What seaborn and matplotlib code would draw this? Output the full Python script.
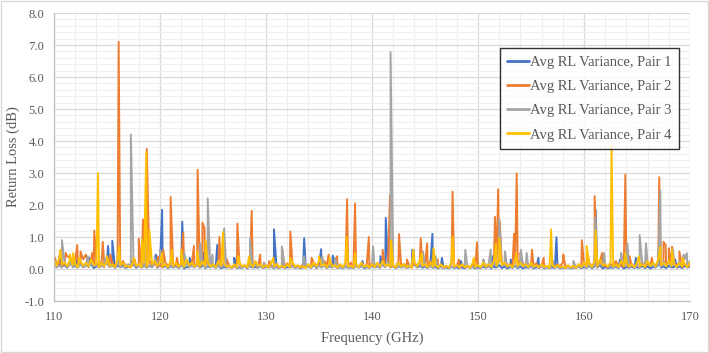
import numpy as np
import pandas as pd
import matplotlib
matplotlib.use("Agg")
import matplotlib.pyplot as plt
from matplotlib.patches import Rectangle
from matplotlib.ticker import MultipleLocator, FormatStrFormatter
import seaborn as sns

# ---------------- data ----------------
series_names = ["Avg RL Variance, Pair 1", "Avg RL Variance, Pair 2",
                "Avg RL Variance, Pair 3", "Avg RL Variance, Pair 4"]
series_colors = ["#4472C4", "#ED7D31", "#A5A5A5", "#FFC000"]

# baseline samples every 0.5 GHz from 110 to 170 ...
base_freq = [110 + 0.5 * i for i in range(121)]
# ... and the samples in between (110.25, 110.75, ... 169.75)
mid_freq = [110.25 + 0.5 * i for i in range(120)]

base_p1 = [0.20, 0.15, 0.12, 0.22, 0.10, 0.18, 0.12, 0.15, 0.08, 0.20,
           0.25, 0.18, 0.10, 0.12, 0.08, 0.15, 0.10, 0.12, 0.10, 0.20,
           0.15, 0.10, 0.08, 0.12, 0.10, 0.06, 0.12, 0.15, 0.10, 0.08,
           0.12, 0.10, 0.06, 0.08, 0.12, 0.05, 0.10, 0.08, 0.06, 0.10,
           0.08, 0.12, 0.05, 0.08, 0.06, 0.10, 0.08, 0.05, 0.10, 0.12,
           0.10, 0.15, 0.08, 0.10, 0.06, 0.08, 0.05, 0.10, 0.08, 0.06,
           0.10, 0.08, 0.12, 0.15, 0.10, 0.08, 0.12, 0.06, 0.15, 0.10,
           0.08, 0.12, 0.06, 0.10, 0.05, 0.08, 0.06, 0.04, 0.08, 0.06,
           0.05, 0.08, 0.10, 0.06, 0.12, 0.08, 0.05, 0.10, 0.08, 0.06,
           0.08, 0.05, 0.10, 0.06, 0.05, 0.08, 0.04, 0.06, 0.05, 0.08,
           0.06, 0.10, 0.08, 0.12, 0.06, 0.05, 0.08, 0.10, 0.06, 0.08,
           0.05, 0.10, 0.08, 0.06, 0.12, 0.08, 0.10, 0.06, 0.08, 0.10,
           0.08]
mid_p1 = [0.05, 0.08, 0.04, 0.10, 0.06, 0.05, 0.08, 0.03, 0.10, 0.12,
          0.06, 0.04, 0.08, 0.03, 0.06, 0.04, 0.08, 0.05, 0.06, 0.04,
          0.05, 0.03, 0.06, 0.04, 0.02, 0.05, 0.08, 0.04, 0.03, 0.06,
          0.04, 0.02, 0.05, 0.06, 0.03, 0.04, 0.02, 0.05, 0.04, 0.03,
          0.05, 0.02, 0.04, 0.03, 0.05, 0.04, 0.02, 0.06, 0.04, 0.03,
          0.06, 0.04, 0.05, 0.03, 0.02, 0.04, 0.03, 0.05, 0.02, 0.04,
          0.05, 0.04, 0.06, 0.05, 0.03, 0.06, 0.04, 0.08, 0.05, 0.04,
          0.03, 0.05, 0.02, 0.04, 0.02, 0.03, 0.02, 0.03, 0.04, 0.02,
          0.03, 0.04, 0.02, 0.05, 0.03, 0.02, 0.04, 0.03, 0.02, 0.04,
          0.02, 0.03, 0.02, 0.03, 0.04, 0.02, 0.03, 0.02, 0.04, 0.03,
          0.04, 0.03, 0.05, 0.02, 0.03, 0.04, 0.03, 0.02, 0.04, 0.03,
          0.04, 0.03, 0.02, 0.05, 0.04, 0.03, 0.05, 0.04, 0.03, 0.05]

base_p2 = [0.30, 0.22, 0.15, 0.35, 0.28, 0.20, 0.45, 0.30, 0.18, 0.25,
           0.30, 0.20, 0.15, 0.25, 0.12, 0.20, 0.15, 0.10, 0.25, 0.18,
           0.12, 0.20, 0.15, 0.10, 0.18, 0.25, 0.15, 0.12, 0.20, 0.30,
           0.15, 0.10, 0.18, 0.12, 0.08, 0.15, 0.10, 0.20, 0.12, 0.08,
           0.12, 0.08, 0.15, 0.10, 0.18, 0.12, 0.08, 0.15, 0.10, 0.20,
           0.15, 0.25, 0.20, 0.12, 0.10, 0.15, 0.20, 0.10, 0.15, 0.12,
           0.18, 0.12, 0.20, 0.15, 0.10, 0.25, 0.15, 0.12, 0.18, 0.20,
           0.15, 0.25, 0.12, 0.10, 0.08, 0.15, 0.10, 0.12, 0.08, 0.15,
           0.10, 0.15, 0.12, 0.20, 0.25, 0.18, 0.15, 0.20, 0.30, 0.15,
           0.12, 0.18, 0.10, 0.08, 0.12, 0.15, 0.20, 0.10, 0.08, 0.12,
           0.15, 0.20, 0.12, 0.18, 0.10, 0.15, 0.25, 0.12, 0.15, 0.10,
           0.12, 0.20, 0.15, 0.18, 0.22, 0.15, 0.25, 0.20, 0.18, 0.15,
           0.12]
mid_p2 = [0.12, 0.08, 0.40, 0.15, 0.10, 0.30, 0.20, 0.12, 0.08, 0.15,
          0.10, 0.08, 0.06, 0.10, 0.05, 0.08, 0.06, 0.12, 0.08, 0.06,
          0.05, 0.10, 0.06, 0.05, 0.08, 0.10, 0.06, 0.08, 0.12, 0.10,
          0.06, 0.05, 0.08, 0.04, 0.05, 0.06, 0.04, 0.08, 0.05, 0.04,
          0.06, 0.04, 0.05, 0.08, 0.06, 0.05, 0.06, 0.08, 0.05, 0.10,
          0.08, 0.12, 0.06, 0.05, 0.06, 0.08, 0.06, 0.05, 0.06, 0.08,
          0.06, 0.05, 0.08, 0.06, 0.05, 0.10, 0.06, 0.05, 0.08, 0.10,
          0.06, 0.08, 0.05, 0.04, 0.05, 0.06, 0.04, 0.05, 0.04, 0.06,
          0.05, 0.06, 0.08, 0.10, 0.12, 0.08, 0.06, 0.10, 0.12, 0.06,
          0.05, 0.06, 0.04, 0.05, 0.06, 0.08, 0.06, 0.04, 0.05, 0.06,
          0.08, 0.06, 0.05, 0.08, 0.06, 0.10, 0.08, 0.06, 0.05, 0.06,
          0.08, 0.06, 0.10, 0.08, 0.12, 0.10, 0.08, 0.10, 0.06, 0.08]

base_p3 = [0.15, 0.10, 0.20, 0.12, 0.08, 0.15, 0.10, 0.18, 0.12, 0.10,
           0.15, 0.10, 0.12, 0.08, 0.15, 0.20, 0.10, 0.08, 0.12, 0.25,
           0.30, 0.12, 0.10, 0.08, 0.12, 0.15, 0.10, 0.20, 0.15, 0.10,
           0.08, 0.12, 0.10, 0.06, 0.10, 0.08, 0.12, 0.10, 0.15, 0.08,
           0.10, 0.08, 0.06, 0.10, 0.12, 0.08, 0.06, 0.10, 0.08, 0.12,
           0.10, 0.08, 0.12, 0.10, 0.06, 0.10, 0.08, 0.12, 0.10, 0.08,
           0.12, 0.10, 0.15, 0.20, 0.12, 0.10, 0.08, 0.12, 0.20, 0.15,
           0.10, 0.08, 0.12, 0.06, 0.10, 0.08, 0.12, 0.15, 0.10, 0.08,
           0.10, 0.12, 0.15, 0.20, 0.25, 0.15, 0.10, 0.12, 0.18, 0.10,
           0.08, 0.12, 0.10, 0.06, 0.08, 0.10, 0.06, 0.08, 0.10, 0.12,
           0.10, 0.15, 0.12, 0.20, 0.15, 0.10, 0.12, 0.25, 0.10, 0.15,
           0.12, 0.15, 0.20, 0.12, 0.15, 0.25, 0.20, 0.15, 0.25, 0.30,
           0.25]
mid_p3 = [0.06, 0.04, 0.08, 0.05, 0.04, 0.06, 0.05, 0.08, 0.04, 0.05,
          0.06, 0.04, 0.05, 0.04, 0.06, 0.08, 0.04, 0.03, 0.06, 0.10,
          0.12, 0.05, 0.04, 0.03, 0.05, 0.06, 0.04, 0.08, 0.05, 0.04,
          0.03, 0.05, 0.04, 0.02, 0.04, 0.03, 0.05, 0.04, 0.06, 0.03,
          0.04, 0.03, 0.02, 0.04, 0.05, 0.03, 0.02, 0.04, 0.03, 0.05,
          0.04, 0.03, 0.05, 0.04, 0.02, 0.04, 0.03, 0.05, 0.04, 0.03,
          0.05, 0.04, 0.06, 0.08, 0.05, 0.04, 0.03, 0.05, 0.08, 0.06,
          0.04, 0.03, 0.05, 0.02, 0.04, 0.03, 0.05, 0.06, 0.04, 0.03,
          0.04, 0.05, 0.06, 0.08, 0.10, 0.06, 0.04, 0.05, 0.07, 0.04,
          0.03, 0.05, 0.04, 0.02, 0.03, 0.04, 0.02, 0.03, 0.04, 0.05,
          0.04, 0.06, 0.05, 0.08, 0.06, 0.04, 0.05, 0.10, 0.04, 0.06,
          0.05, 0.06, 0.08, 0.05, 0.06, 0.10, 0.08, 0.06, 0.10, 0.12]

base_p4 = [0.25, 0.35, 0.20, 0.30, 0.15, 0.25, 0.20, 0.30, 0.15, 0.20,
           0.25, 0.15, 0.30, 0.20, 0.10, 0.25, 0.15, 0.20, 0.35, 0.25,
           0.20, 0.15, 0.25, 0.20, 0.15, 0.30, 0.20, 0.15, 0.25, 0.20,
           0.15, 0.25, 0.20, 0.10, 0.15, 0.20, 0.12, 0.18, 0.25, 0.15,
           0.12, 0.20, 0.15, 0.10, 0.15, 0.20, 0.12, 0.08, 0.15, 0.20,
           0.25, 0.15, 0.20, 0.12, 0.15, 0.20, 0.10, 0.15, 0.20, 0.12,
           0.15, 0.20, 0.25, 0.15, 0.12, 0.20, 0.15, 0.10, 0.20, 0.25,
           0.15, 0.20, 0.12, 0.15, 0.10, 0.20, 0.12, 0.15, 0.10, 0.18,
           0.12, 0.20, 0.15, 0.25, 0.30, 0.20, 0.15, 0.25, 0.20, 0.15,
           0.20, 0.12, 0.15, 0.10, 0.15, 0.12, 0.08, 0.12, 0.10, 0.15,
           0.20, 0.15, 0.25, 0.30, 0.15, 0.20, 0.15, 0.25, 0.20, 0.15,
           0.20, 0.15, 0.25, 0.20, 0.30, 0.20, 0.25, 0.15, 0.20, 0.15,
           0.20]
mid_p4 = [0.10, 0.15, 0.08, 0.12, 0.06, 0.10, 0.08, 0.12, 0.06, 0.08,
          0.10, 0.06, 0.12, 0.08, 0.05, 0.10, 0.06, 0.08, 0.15, 0.10,
          0.08, 0.06, 0.10, 0.08, 0.06, 0.12, 0.08, 0.06, 0.10, 0.08,
          0.06, 0.10, 0.08, 0.04, 0.06, 0.08, 0.05, 0.07, 0.10, 0.06,
          0.05, 0.08, 0.06, 0.04, 0.06, 0.08, 0.05, 0.03, 0.06, 0.08,
          0.10, 0.06, 0.08, 0.05, 0.06, 0.08, 0.04, 0.06, 0.08, 0.05,
          0.06, 0.08, 0.10, 0.06, 0.05, 0.08, 0.06, 0.04, 0.08, 0.10,
          0.06, 0.08, 0.05, 0.06, 0.04, 0.08, 0.05, 0.06, 0.04, 0.07,
          0.05, 0.08, 0.06, 0.10, 0.12, 0.08, 0.06, 0.10, 0.08, 0.06,
          0.08, 0.05, 0.06, 0.04, 0.06, 0.05, 0.03, 0.05, 0.04, 0.06,
          0.08, 0.06, 0.10, 0.12, 0.06, 0.08, 0.06, 0.10, 0.08, 0.06,
          0.08, 0.06, 0.10, 0.08, 0.12, 0.08, 0.10, 0.06, 0.08, 0.06]

# resonance spikes (frequency GHz, dB)
spikes_p1 = [(110.5, 0.40), (112.2, 0.30), (113.3, 0.35), (115.1, 0.72), (115.5, 0.88),
             (117.4, 0.25), (119.6, 0.45), (120.2, 1.85), (122.1, 1.48), (122.8, 0.35),
             (124.1, 0.50), (125.4, 0.75), (127.0, 0.35), (128.4, 0.30), (130.75, 1.24),
             (133.6, 0.96), (135.2, 0.62), (136.3, 0.42), (139.1, 0.25), (140.8, 0.40),
             (141.3, 1.60), (143.8, 0.60), (145.7, 1.10), (146.6, 0.35), (148.4, 0.25),
             (151.4, 0.40), (153.1, 0.30), (155.7, 0.35), (157.4, 0.99), (161.1, 1.85),
             (163.4, 0.30), (164.9, 0.35), (167.0, 0.50), (168.6, 0.30)]
spikes_p2 = [(110.1, 0.35), (111.1, 0.50), (112.2, 0.75), (112.5, 0.55), (113.6, 0.50),
             (113.8, 1.20), (114.6, 0.85), (115.3, 0.45), (116.1, 7.10), (117.6, 0.30),
             (118.0, 0.95), (118.4, 1.55), (118.75, 3.75), (119.8, 0.40), (120.3, 0.60),
             (121.0, 2.25), (121.6, 0.35), (122.2, 1.13), (123.2, 0.72), (123.55, 3.10),
             (124.0, 1.45), (124.2, 1.28), (125.6, 1.00), (126.3, 0.30), (127.3, 1.42),
             (128.65, 1.82), (129.45, 0.45), (130.3, 0.25), (131.5, 0.70), (132.3, 1.17),
             (134.3, 0.35), (135.9, 0.45), (136.7, 0.40), (137.65, 2.18), (138.4, 2.05),
             (139.7, 1.00), (141.0, 0.60), (141.7, 2.30), (142.55, 1.09), (143.3, 0.30),
             (144.6, 0.96), (145.2, 0.80), (146.2, 0.30), (147.6, 2.42), (148.2, 0.30),
             (149.9, 0.83), (151.6, 1.63), (151.9, 2.49), (152.05, 1.50), (153.4, 1.10),
             (153.65, 2.99), (154.0, 0.50), (155.1, 0.60), (156.2, 0.35), (158.05, 0.45),
             (159.8, 0.90), (160.3, 0.50), (161.0, 2.28), (161.7, 0.50), (163.9, 2.95),
             (164.3, 0.40), (166.4, 0.35), (167.1, 2.87), (167.5, 0.85), (167.7, 0.75),
             (168.0, 0.65), (168.3, 0.70), (169.0, 0.55)]
spikes_p3 = [(110.75, 0.90), (111.6, 0.30), (113.2, 0.40), (114.8, 0.35), (116.0, 0.50),
             (117.25, 4.20), (118.6, 0.80), (119.5, 0.35), (120.0, 0.60), (122.3, 0.50),
             (123.8, 0.80), (124.5, 2.20), (124.95, 0.45), (126.05, 1.27), (128.5, 0.95),
             (129.8, 0.20), (131.5, 0.70), (133.6, 0.40), (135.3, 0.40), (136.5, 0.35),
             (140.1, 0.70), (141.75, 6.78), (143.95, 0.60), (144.8, 0.55), (146.0, 0.40),
             (148.8, 0.60), (150.5, 0.30), (151.2, 0.60), (152.0, 1.56), (152.55, 0.55),
             (154.05, 0.60), (154.6, 0.50), (157.0, 0.30), (159.0, 0.25), (161.05, 1.60),
             (161.9, 0.50), (163.5, 0.50), (164.1, 0.80), (165.25, 1.06), (165.85, 0.80),
             (167.2, 2.45), (168.4, 0.60), (169.4, 0.45), (169.7, 0.50)]
spikes_p4 = [(110.6, 0.60), (111.5, 0.45), (111.8, 0.50), (112.4, 0.35), (114.15, 3.00),
             (115.0, 0.40), (116.15, 0.70), (117.5, 0.35), (118.3, 0.90), (118.7, 3.65),
             (119.0, 1.20), (120.2, 0.50), (121.1, 0.60), (122.0, 0.60), (123.5, 0.55),
             (124.3, 0.90), (125.95, 1.15), (127.4, 0.40), (128.4, 0.40), (130.7, 0.35),
             (132.3, 0.35), (135.0, 0.40), (136.0, 0.35), (137.6, 1.00), (138.4, 0.50),
             (141.8, 0.90), (143.9, 0.60), (144.7, 0.50), (145.8, 0.65), (147.6, 1.00),
             (149.6, 0.35), (151.7, 0.80), (152.0, 0.95), (153.6, 0.50), (156.9, 1.24),
             (160.25, 0.72), (161.1, 1.20), (162.6, 3.85), (163.9, 0.50), (165.2, 0.40),
             (167.2, 0.70), (168.3, 0.60), (169.3, 0.35)]

x_ticks = [110, 120, 130, 140, 150, 160, 170]
y_ticks = [-1.0, 0.0, 1.0, 2.0, 3.0, 4.0, 5.0, 6.0, 7.0, 8.0]

# ---------------- build table ----------------
rows = []
for name, base, mid, spikes in zip(series_names,
                                   [base_p1, base_p2, base_p3, base_p4],
                                   [mid_p1, mid_p2, mid_p3, mid_p4],
                                   [spikes_p1, spikes_p2, spikes_p3, spikes_p4]):
    for f, v in zip(base_freq, base):
        rows.append((name, f, v))
    for f, v in zip(mid_freq, mid):
        rows.append((name, f, v))
    for f, v in spikes:
        rows.append((name, f, v))
df = pd.DataFrame(rows, columns=["series", "freq", "rl"])

# ---------------- plot ----------------
sns.set_theme(style="white")
plt.rcParams["font.family"] = ["Liberation Serif", "DejaVu Serif"]

fig = plt.figure(figsize=(7.09, 3.53), dpi=100)
ax = fig.add_axes([54 / 709, 1 - 301 / 353, 636 / 709, 288 / 353])

sns.lineplot(data=df, x="freq", y="rl", hue="series", hue_order=series_names,
             palette=series_colors, estimator=None, sort=True, linewidth=1.4,
             ax=ax, legend=True)

ax.set_xlim(110, 170)
ax.set_ylim(-1.0, 8.0)
ax.set_xticks(x_ticks)
ax.set_yticks(y_ticks)
ax.yaxis.set_major_formatter(FormatStrFormatter("%.1f"))
ax.xaxis.set_minor_locator(MultipleLocator(2))
ax.yaxis.set_minor_locator(MultipleLocator(0.2))
ax.grid(which="major", color="#D9D9D9", linewidth=0.9)
ax.grid(which="minor", color="#EFEFEF", linewidth=0.8)
ax.set_axisbelow(True)

for s in ["top", "right"]:
    ax.spines[s].set_visible(False)
for s in ["left", "bottom"]:
    ax.spines[s].set_color("#BFBFBF")
    ax.spines[s].set_linewidth(0.9)

ax.tick_params(axis="both", which="major", direction="out", length=4,
               color="#BFBFBF", labelsize=9, labelcolor="#595959", pad=3)
ax.tick_params(axis="both", which="minor", length=0)

ax.set_xlabel("Frequency (GHz)", fontsize=10.5, color="#595959", labelpad=6)
ax.set_ylabel("Return Loss (dB)", fontsize=10.5, color="#595959", labelpad=3)

handles, labels = ax.get_legend_handles_labels()
leg = ax.legend(handles, labels, loc="upper right", bbox_to_anchor=(0.983, 0.878),
                borderaxespad=0, fontsize=10.5, frameon=True, fancybox=False,
                handlelength=1.5, handletextpad=0.1, labelspacing=0.76,
                borderpad=0.5, labelcolor="#595959")
leg.get_frame().set_edgecolor("black")
leg.get_frame().set_linewidth(1.0)
for line in leg.get_lines():
    line.set_linewidth(2.0)

fig.patches.append(Rectangle((0.001, 0.002), 0.997, 0.995, transform=fig.transFigure,
                             fill=False, edgecolor="#D9D9D9", linewidth=1.0))

fig.savefig("out.png", dpi=100)
